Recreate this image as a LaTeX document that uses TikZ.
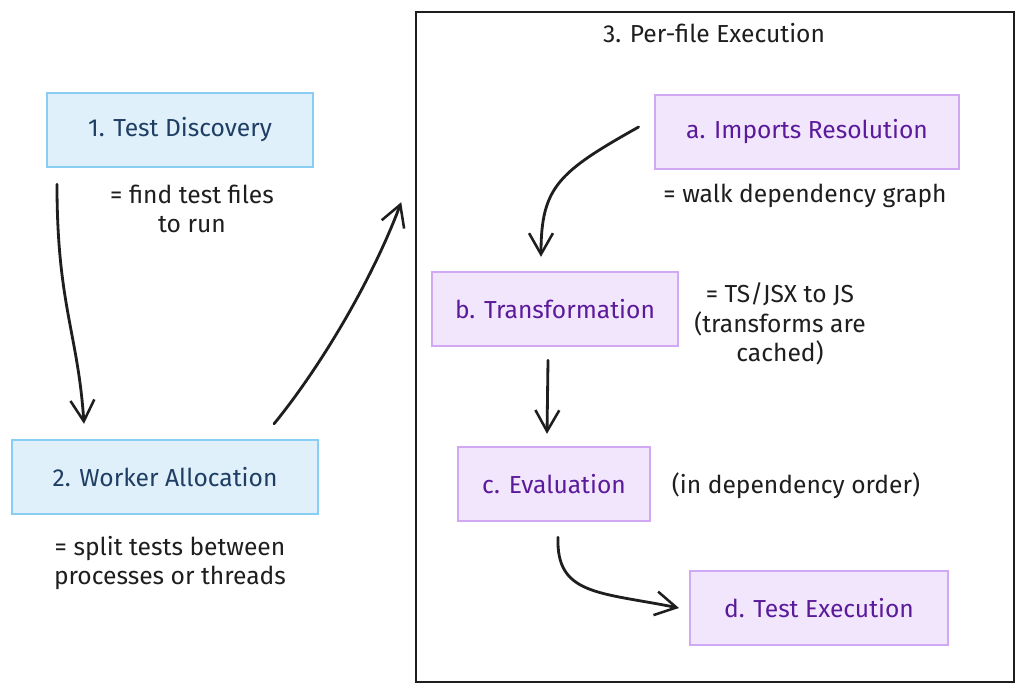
\documentclass[tikz,border=0pt]{standalone}
\usepackage{fontspec}
\setmainfont{Fira Sans}
\usepackage{tikz}
\usetikzlibrary{arrows.meta,positioning}

\definecolor{bluefill}{HTML}{DFF0FB}
\definecolor{blueline}{HTML}{88CDF4}
\definecolor{bluetext}{HTML}{1E3E63}
\definecolor{purplefill}{HTML}{F2E6FD}
\definecolor{purpleline}{HTML}{D0A8F4}
\definecolor{purpletext}{HTML}{5A1A9A}
\definecolor{inkblack}{HTML}{1E1E1E}

\begin{document}
\begin{tikzpicture}[x=0.025cm, y=-0.025cm,
    ->, >={Straight Barb[length=15pt,width=17pt,line width=1.8pt]},
    flow/.style={draw=inkblack, line width=2pt, line cap=round},
    every node/.style={font=\fontsize{17.5}{21}\selectfont, text=inkblack},
    stage/.style={draw=blueline, fill=bluefill, line width=1.4pt, text=bluetext,
        minimum height=1.86cm},
    substage/.style={draw=purpleline, fill=purplefill, line width=1.4pt, text=purpletext,
        minimum height=1.86cm},
    note/.style={align=center, inner sep=1pt}
    ]
\useasboundingbox[fill=white] (0,0) rectangle (1024,693);
% outer frame
\node[draw=inkblack, line width=1pt, minimum width=14.95cm, minimum height=16.75cm,
    inner sep=0pt] (frame) at (715,347) {};
\node (title) at (714,33) {3. Per-file Execution};
% left column
\node[stage, minimum width=6.65cm] (disc) at (180,130) {1. Test Discovery};
\node[note] (discnote) at (192,209) {= find test files\\to run};
\node[stage, minimum width=7.65cm] (alloc) at (165,477) {2. Worker Allocation};
\node[note] (allocnote) at (170,563) {= split tests between\\processes or threads};
% per-file steps
\node[substage, minimum width=7.62cm] (imports) at (807,132) {a. Imports Resolution};
\node[note] (importsnote) at (805,196) {= walk dependency graph};
\node[substage, minimum width=6.15cm] (transf) at (555,309) {b. Transformation};
\node[note] (transfnote) at (780,324) {= TS/JSX to JS\\(transforms are\\cached)};
\node[substage, minimum width=4.82cm] (evalu) at (554,484) {c. Evaluation};
\node[note] (evalunote) at (796,486) {(in dependency order)};
\node[substage, minimum width=6.45cm] (exec) at (819,608) {d. Test Execution};
% arrows
\draw[flow] ([shift={(11,16)}]disc.south west)
    .. controls +(0,120) and +(-6,-90) .. ([shift={(73,-15)}]alloc.north west);
\draw[flow] ([shift={(-45,-15)}]alloc.north east)
    .. controls +(45,-55) and +(-30,80) .. ([shift={(-14,191)}]frame.north west);
\draw[flow] ([shift={(-15,-5)}]imports.west)
    .. controls +(-80,45) and +(0,-70) .. ([shift={(-14,-14)}]transf.north);
\draw[flow] ([shift={(-7,13)}]transf.south) -- ([shift={(-7,-12)}]evalu.north);
\draw[flow] ([shift={(4,15)}]evalu.south)
    .. controls +(-2,58) and +(-80,-16) .. ([shift={(-10,0)}]exec.west);
\end{tikzpicture}
\end{document}
